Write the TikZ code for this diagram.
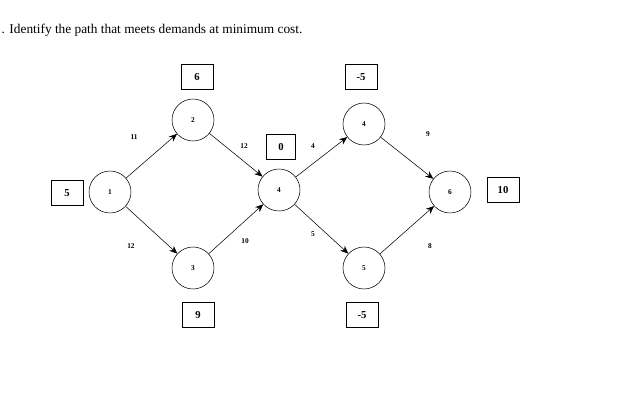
\documentclass[tikz,border=0pt]{standalone}
\usepackage{fontspec}
\setmainfont{Liberation Serif}
\usetikzlibrary{arrows.meta}
\begin{document}
\begin{tikzpicture}[x=0.75pt,y=-0.75pt,
  v/.style={draw,circle,minimum size=31.5pt,inner sep=0pt,font=\bfseries\fontsize{5.5}{6}\selectfont},
  b/.style={draw,minimum width=24pt,minimum height=19pt,inner sep=0pt,font=\bfseries\fontsize{8}{9}\selectfont},
  l/.style={font=\bfseries\fontsize{5.5}{6}\selectfont},
  e/.style={-{Stealth[length=6pt,width=5pt]},thin}]
\useasboundingbox (0,0) rectangle (619,415);
\node[anchor=west,font=\fontsize{10}{12}\selectfont] (t) at (-3,30) {. Identify the path that meets demands at minimum cost.};
\node[v] (n1) at (110,192) {1};
\node[v] (n2) at (193,120) {2};
\node[v] (n3) at (193,268) {3};
\node[v] (n4) at (279,190) {4};
\node[v] (n4b) at (364,124) {4};
\node[v] (n5) at (364,268) {5};
\node[v] (n6) at (450,192) {6};
\node[b] (b6) at (197,77) {6};
\node[b,minimum width=22pt] (b0) at (281,147) {0};
\node[b] (bm5a) at (361,77) {-5};
\node[b] (b5) at (67,193) {5};
\node[b] (b10) at (503,190) {10};
\node[b] (b9) at (198,315) {9};
\node[b] (bm5b) at (362,315) {-5};
\draw[e] (n1) -- (n2);
\draw[e] (n1) -- (n3);
\draw[e] (n2) -- (n4);
\draw[e] (n3) -- (n4);
\draw[e] (n4) -- (n4b);
\draw[e] (n4) -- (n5);
\draw[e] (n4b) -- (n6);
\draw[e] (n5) -- (n6);
\node[l] (l1) at (134,137) {11};
\node[l] (l2) at (244,146) {12};
\node[l] (l3) at (313,146) {4};
\node[l] (l4) at (428,134) {9};
\node[l] (l5) at (131,246) {12};
\node[l] (l6) at (245,241) {10};
\node[l] (l7) at (313,234) {5};
\node[l] (l8) at (430,246) {8};
\end{tikzpicture}
\end{document}
